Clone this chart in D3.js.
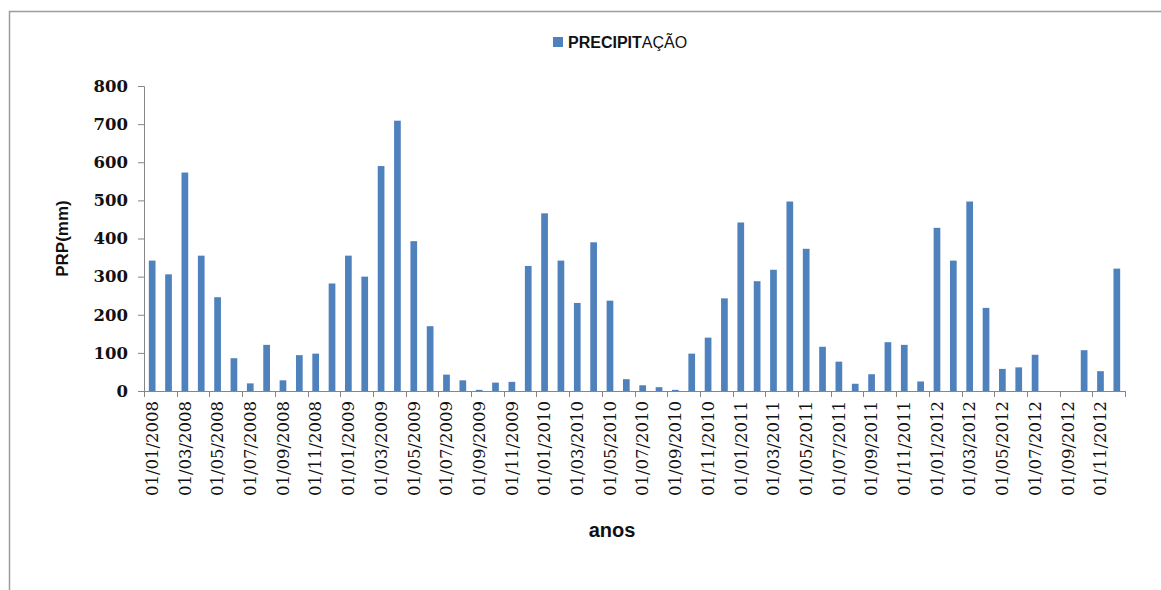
<!DOCTYPE html>
<html>
<head>
<meta charset="utf-8">
<script src="https://cdn.jsdelivr.net/npm/d3@7"></script>
<style>
  html, body { margin: 0; padding: 0; background: #fff; }
  svg { display: block; }
</style>
</head>
<body>
<svg id="chart" width="1161" height="590"></svg>
<script>
// Monthly rainfall, Jan 2008 – Dec 2012
const months = [
  "01/01/2008","01/02/2008","01/03/2008","01/04/2008","01/05/2008","01/06/2008",
  "01/07/2008","01/08/2008","01/09/2008","01/10/2008","01/11/2008","01/12/2008",
  "01/01/2009","01/02/2009","01/03/2009","01/04/2009","01/05/2009","01/06/2009",
  "01/07/2009","01/08/2009","01/09/2009","01/10/2009","01/11/2009","01/12/2009",
  "01/01/2010","01/02/2010","01/03/2010","01/04/2010","01/05/2010","01/06/2010",
  "01/07/2010","01/08/2010","01/09/2010","01/10/2010","01/11/2010","01/12/2010",
  "01/01/2011","01/02/2011","01/03/2011","01/04/2011","01/05/2011","01/06/2011",
  "01/07/2011","01/08/2011","01/09/2011","01/10/2011","01/11/2011","01/12/2011",
  "01/01/2012","01/02/2012","01/03/2012","01/04/2012","01/05/2012","01/06/2012",
  "01/07/2012","01/08/2012","01/09/2012","01/10/2012","01/11/2012","01/12/2012"
];

// Precipitation (mm); null = no record
const precipitation = [
  342, 306, 573, 355, 246, 86, 20, 121, 28, 94, 98, 282,
  355, 300, 590, 709, 393, 170, 43, 28, 3, 22, 24, 328,
  466, 342, 231, 390, 237, 31, 15, 10, 3, 98, 140, 243,
  442, 288, 318, 497, 373, 116, 77, 19, 44, 128, 121, 25,
  428, 342, 497, 218, 58, 62, 95, null, null, 107, 52, 321
];

const yTicks = [0, 100, 200, 300, 400, 500, 600, 700, 800];
const seriesName = ["PRECIPIT", "AÇÃO"];
const yTitle = "PRP(mm)";
const xTitle = "anos";

const svg = d3.select("#chart");
const barColor = "#4f81bd";
const axisColor = "#868686";

// outer chart frame
svg.append("rect")
  .attr("x", 9.5).attr("y", 11.5)
  .attr("width", 1200).attr("height", 700)
  .attr("fill", "#fff")
  .attr("stroke", "#9c9c9c").attr("stroke-width", 1.5);

const plotLeft = 144, plotRight = 1125, plotTop = 86, plotBottom = 391;

const x = d3.scaleBand()
  .domain(months)
  .range([plotLeft, plotRight])
  .paddingInner(0.59)
  .paddingOuter(0.295);

const y = d3.scaleLinear()
  .domain([0, 800])
  .range([plotBottom, plotTop]);

// bars
svg.append("g")
  .selectAll("rect")
  .data(months.map((m, i) => ({ m, v: precipitation[i] })).filter(d => d.v != null))
  .join("rect")
  .attr("x", d => x(d.m))
  .attr("y", d => y(d.v))
  .attr("width", x.bandwidth())
  .attr("height", d => y(0) - y(d.v))
  .attr("fill", barColor);

// y axis
const yAxis = svg.append("g")
  .attr("transform", `translate(${plotLeft},0)`)
  .call(d3.axisLeft(y).tickValues(yTicks).tickSize(6).tickPadding(10).tickFormat(d3.format("d")));
yAxis.select(".domain").attr("stroke", axisColor);
yAxis.selectAll(".tick line").attr("stroke", axisColor);
yAxis.selectAll(".tick text")
  .attr("font-family", "'DejaVu Serif', serif")
  .attr("font-weight", "bold")
  .attr("font-size", 16.5)
  .attr("fill", "#111");

// x axis: labels on every other month, ticks on every second category boundary
const half = (x.step() - x.bandwidth()) / 2;
const labelled = months.filter((d, i) => i % 2 === 0);
const xAxis = svg.append("g")
  .attr("transform", `translate(0,${plotBottom})`)
  .call(d3.axisBottom(x).tickValues(labelled).tickSize(0).tickPadding(0));
xAxis.select(".domain").remove();
xAxis.selectAll(".tick text")
  .attr("transform", "rotate(-90)")
  .attr("text-anchor", "end")
  .attr("x", -10)
  .attr("y", 0)
  .attr("dy", "0.35em")
  .attr("font-family", "'DejaVu Serif', serif")
  .attr("font-size", 16.5)
  .attr("fill", "#111");

svg.append("line")
  .attr("x1", plotLeft).attr("x2", plotRight)
  .attr("y1", plotBottom + 0.5).attr("y2", plotBottom + 0.5)
  .attr("stroke", axisColor);

const boundaries = labelled.map(d => x(d) - half).concat([plotRight]);
svg.append("g")
  .selectAll("line")
  .data(boundaries)
  .join("line")
  .attr("x1", d => Math.round(d) + 0.5).attr("x2", d => Math.round(d) + 0.5)
  .attr("y1", plotBottom).attr("y2", plotBottom + 6)
  .attr("stroke", axisColor);

// axis titles
svg.append("text")
  .attr("transform", `translate(68,${(plotTop + plotBottom) / 2}) rotate(-90)`)
  .attr("text-anchor", "middle")
  .attr("font-family", "'Liberation Sans', Arial, sans-serif")
  .attr("font-weight", "bold")
  .attr("font-size", 17)
  .attr("fill", "#111")
  .text(yTitle);

svg.append("text")
  .attr("x", 612).attr("y", 537)
  .attr("text-anchor", "middle")
  .attr("font-family", "'Liberation Sans', Arial, sans-serif")
  .attr("font-weight", "bold")
  .attr("font-size", 20)
  .attr("fill", "#111")
  .text(xTitle);

// legend
const legend = svg.append("g").attr("transform", "translate(553,37)");
legend.append("rect").attr("width", 10).attr("height", 10).attr("fill", barColor);
const lt = legend.append("text")
  .attr("x", 15).attr("y", 10.5)
  .attr("font-family", "'Liberation Sans', Arial, sans-serif")
  .attr("font-size", 16)
  .attr("fill", "#111");
lt.append("tspan").attr("font-weight", "bold").text(seriesName[0]);
lt.append("tspan").text(seriesName[1]);
</script>
</body>
</html>
